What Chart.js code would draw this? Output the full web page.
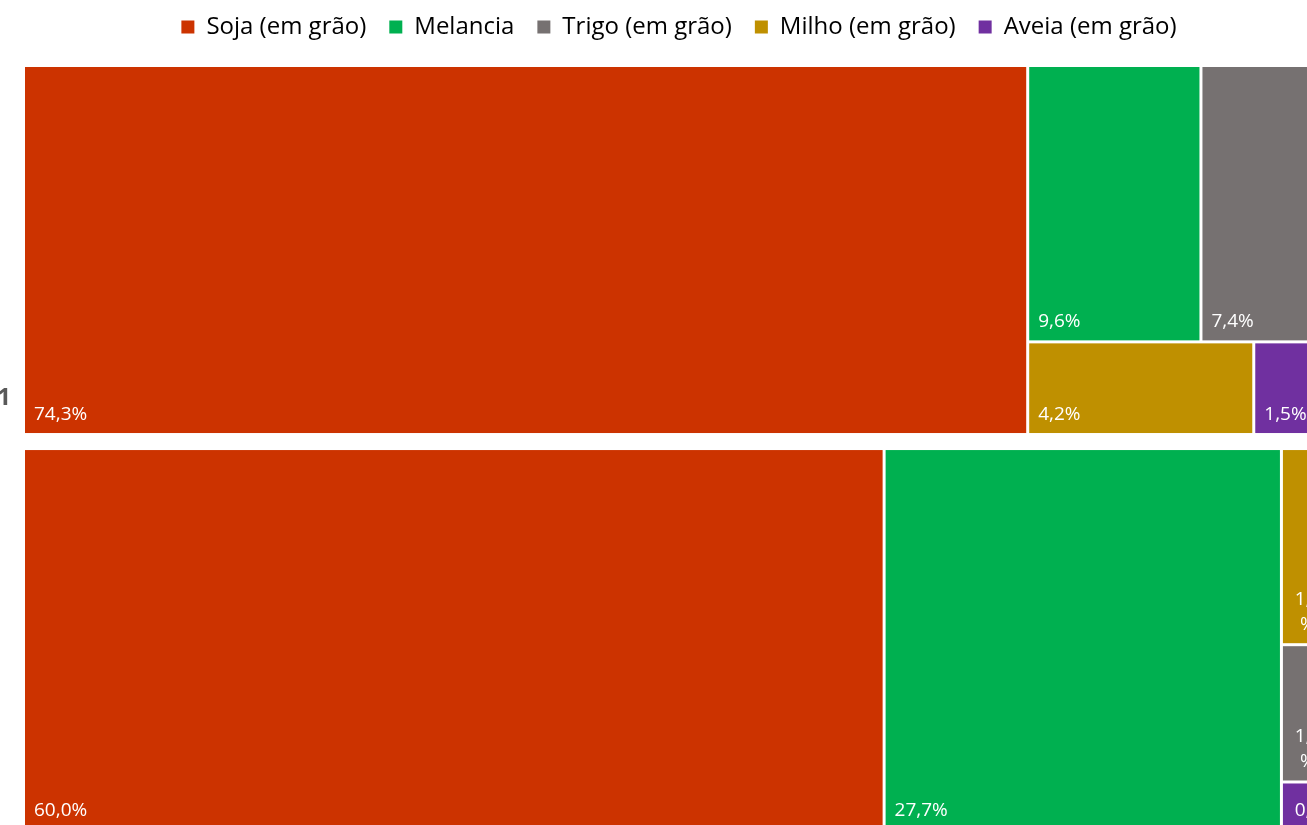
<!DOCTYPE html>
<html lang="pt-BR">
<head>
<meta charset="utf-8">
<title>Treemap - culturas</title>
<script src="https://cdn.jsdelivr.net/npm/chart.js@4.4.1/dist/chart.umd.min.js"></script>
<style>
    html, body { margin: 0; padding: 0; background: #fff; overflow: hidden; width: 1307px; height: 825px; }
    #wrap { position: absolute; left: 0; top: -8px; }
</style>
</head>
<body>
<div id="wrap"><canvas id="chart" width="1358" height="860"></canvas></div>
<script>
// Categorias na ordem da legenda
const categorias = ['Soja (em grão)', 'Melancia', 'Trigo (em grão)', 'Milho (em grão)', 'Aveia (em grão)'];
const cores = ['#CC3300', '#00B050', '#767171', '#BF9000', '#7030A0'];

// Participação (%) de cada cultura em cada grupo (mesma ordem das categorias)
const grupo1 = [74.3, 9.6, 7.4, 4.2, 1.5];
const grupo2 = [60.0, 27.7, 1.33, 1.9, 0.47];
const rotulosGrupo = ['1', ''];
// Tamanho relativo dos grupos (altura de cada bloco)
const pesoGrupo = [1.0, 1.035];
const espacoGrupo = 0.038;

// Arranjo dos blocos: 'h' = lado a lado, 'v' = empilhado, número = índice da categoria
const arranjo1 = ['h', 0, ['v', ['h', 1, 2], ['h', 3, 4]]];
const arranjo2 = ['h', 0, 1, ['v', 3, 2, 4]];

function soma(no, valores) {
    if (typeof no === 'number') return valores[no];
    return no.slice(1).reduce((s, filho) => s + soma(filho, valores), 0);
}

// divide o retângulo (em unidades dos eixos) conforme o arranjo
function distribuir(no, valores, x0, y0, x1, y1, saida) {
    if (typeof no === 'number') {
        saida.push({ i: no, v: valores[no], x0, y0, x1, y1 });
        return;
    }
    const filhos = no.slice(1);
    const total = soma(no, valores);
    let pos = no[0] === 'h' ? x0 : y0;
    filhos.forEach((filho) => {
        const frac = soma(filho, valores) / total;
        if (no[0] === 'h') {
            const fim = pos + (x1 - x0) * frac;
            distribuir(filho, valores, pos, y0, fim, y1, saida);
            pos = fim;
        } else {
            const fim = pos + (y1 - y0) * frac;
            distribuir(filho, valores, x0, pos, x1, fim, saida);
            pos = fim;
        }
    });
}

const celulas = [];
const topo2 = pesoGrupo[0] + espacoGrupo;
distribuir(arranjo1, grupo1, 0, 0, 100, pesoGrupo[0], celulas);
distribuir(arranjo2, grupo2, 0, topo2, 100, topo2 + pesoGrupo[1], celulas);
const yMax = topo2 + pesoGrupo[1];

const fmt = (v) => v.toFixed(1).replace('.', ',') + '%';

const treemapPlugin = {
    id: 'treemapCells',
    beforeInit(chart) {
        // espaço extra entre legenda e área do gráfico
        const fitOriginal = chart.legend.fit;
        chart.legend.fit = function fit() {
            fitOriginal.bind(chart.legend)();
            this.height += 16.5;
        };
    },
    afterDatasetsDraw(chart) {
        const { ctx } = chart;
        const xs = chart.scales.x;
        const ys = chart.scales.y;
        const gap = 1.5;
        ctx.save();
        celulas.forEach((c) => {
            const left = xs.getPixelForValue(c.x0) + gap;
            const right = xs.getPixelForValue(c.x1) - gap;
            const top = ys.getPixelForValue(c.y0) + gap;
            const bottom = ys.getPixelForValue(c.y1) - gap;
            ctx.fillStyle = cores[c.i];
            ctx.fillRect(left, top, right - left, bottom - top);

            // rótulo de valor
            ctx.font = '19px "Open Sans"';
            ctx.fillStyle = '#ffffff';
            ctx.textBaseline = 'alphabetic';
            const texto = fmt(c.v);
            const w = right - left;
            if (ctx.measureText(texto).width <= w - 18) {
                ctx.textAlign = 'left';
                ctx.fillText(texto, left + 9, bottom - 13);
            } else {
                let linhas = [texto.slice(0, -1), '%'];
                const cabem = Math.max(1, Math.floor((bottom - top - 20) / 25));
                linhas = linhas.slice(0, cabem);
                ctx.textAlign = 'center';
                const cx = (left + right) / 2;
                linhas.forEach((l, k) => {
                    ctx.fillText(l, cx, bottom - 13 - (linhas.length - 1 - k) * 25);
                });
            }
        });

        // rótulos dos grupos
        ctx.font = 'bold 24px "Open Sans"';
        ctx.fillStyle = '#595959';
        ctx.textAlign = 'right';
        rotulosGrupo.forEach((r, g) => {
            if (!r) return;
            const base = g === 0 ? pesoGrupo[0] : yMax;
            ctx.fillText(r, 11, ys.getPixelForValue(base) - 30);
        });
        ctx.restore();
    },
};

const ctx = document.getElementById('chart').getContext('2d');
new Chart(ctx, {
    type: 'scatter',
    data: {
        datasets: categorias.map((nome, i) => ({
            label: nome,
            data: [],
            backgroundColor: cores[i],
            borderColor: cores[i],
            borderWidth: 0,
        })),
    },
    options: {
        responsive: false,
        animation: false,
        events: [],
        layout: {
            padding: { left: 23.5, right: 23.5, top: 0, bottom: 21.5 },
        },
        scales: {
            x: { type: 'linear', min: 0, max: 100, display: false },
            y: { type: 'linear', min: 0, max: yMax, reverse: true, display: false },
        },
        plugins: {
            tooltip: { enabled: false },
            legend: {
                position: 'top',
                labels: {
                    boxWidth: 13,
                    boxHeight: 13,
                    padding: 23,
                    color: '#595959',
                    font: { family: 'Open Sans', size: 24 },
                    generateLabels: () =>
                        categorias.map((nome, i) => ({
                            text: nome,
                            fillStyle: cores[i],
                            strokeStyle: cores[i],
                            lineWidth: 0,
                            hidden: false,
                            datasetIndex: i,
                        })),
                },
            },
        },
    },
    plugins: [treemapPlugin],
});
</script>
</body>
</html>
